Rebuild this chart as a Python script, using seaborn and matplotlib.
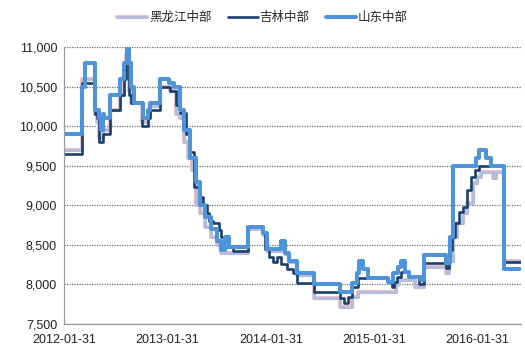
import pandas as pd
import matplotlib
matplotlib.use("Agg")
import matplotlib.pyplot as plt
import matplotlib.dates as mdates
import matplotlib.patheffects as pe
from matplotlib.ticker import FuncFormatter
import seaborn as sns

# 黑龙江中部
hlj_dates = ["2012-01-31", "2012-04-04", "2012-05-18", "2012-05-25", "2012-06-04", "2012-06-15",
             "2012-07-13", "2012-08-17", "2012-08-31", "2012-09-07", "2012-09-17", "2012-09-24",
             "2012-11-02", "2012-11-23", "2012-11-30", "2013-01-04", "2013-02-08", "2013-03-01",
             "2013-03-15", "2013-03-29", "2013-04-12", "2013-04-26", "2013-05-10", "2013-05-24",
             "2013-06-14", "2013-07-05", "2013-07-26", "2013-08-09", "2013-09-06", "2013-11-12",
             "2014-01-03", "2014-01-17", "2014-03-07", "2014-03-21", "2014-04-04", "2014-05-02",
             "2014-07-04", "2014-10-03", "2014-11-14", "2014-12-05", "2015-04-17", "2015-05-01",
             "2015-06-26", "2015-07-28", "2015-10-14", "2015-10-24", "2015-11-07", "2015-11-21",
             "2015-12-12", "2015-12-26", "2016-01-16", "2016-01-30", "2016-02-13", "2016-03-25",
             "2016-04-08", "2016-05-06", "2016-06-30"]
hlj_vals = [9700, 10600, 10150, 10050, 9850, 9950,
            10200, 10400, 10650, 10900, 10450, 10300,
            10050, 10150, 10250, 10500, 10450, 10150,
            10100, 9800, 9600, 9450, 9000, 8900,
            8730, 8600, 8500, 8400, 8400, 8700,
            8620, 8420, 8500, 8380, 8280, 8120,
            7830, 7720, 7840, 7900, 8000, 8060,
            7970, 8220, 8150, 8300, 8600, 8780,
            8900, 9030, 9280, 9360, 9420, 9350,
            9420, 8300, 8300]

# 吉林中部
jl_dates = ["2012-01-31", "2012-04-04", "2012-05-18", "2012-05-25", "2012-06-04", "2012-06-15",
            "2012-07-13", "2012-08-17", "2012-08-31", "2012-09-07", "2012-09-17", "2012-09-24",
            "2012-11-02", "2012-11-23", "2012-11-30", "2013-01-04", "2013-02-08", "2013-03-01",
            "2013-03-15", "2013-04-05", "2013-04-19", "2013-05-03", "2013-05-24", "2013-06-07",
            "2013-06-21", "2013-06-28", "2013-07-12", "2013-08-02", "2013-08-09", "2013-08-23",
            "2013-08-30", "2013-09-06", "2013-09-20", "2013-11-12", "2014-01-03", "2014-01-10",
            "2014-01-24", "2014-02-07", "2014-02-21", "2014-03-07", "2014-03-28", "2014-04-18",
            "2014-05-02", "2014-07-04", "2014-10-03", "2014-10-17", "2014-10-31", "2014-11-14",
            "2014-12-05", "2015-03-20", "2015-04-03", "2015-04-10", "2015-04-24", "2015-05-08",
            "2015-06-05", "2015-07-10", "2015-07-28", "2015-10-14", "2015-10-24", "2015-11-03",
            "2015-11-14", "2015-11-28", "2015-12-12", "2015-12-26", "2016-01-09", "2016-01-23",
            "2016-02-06", "2016-05-04", "2016-06-30"]
jl_vals = [9650, 10550, 10150, 10100, 9800, 9900,
           10200, 10400, 10600, 10800, 10400, 10300,
           10000, 10100, 10200, 10500, 10450, 10270,
           10170, 9900, 9670, 9230, 9100, 9000,
           8900, 8800, 8780, 8690, 8600, 8470,
           8590, 8470, 8420, 8730, 8650, 8450,
           8350, 8280, 8350, 8260, 8200, 8150,
           8020, 7900, 7830, 7760, 7840, 7970,
           8080, 8030, 7970, 8030, 8100, 8160,
           8100, 8000, 8270, 8210, 8440, 8600,
           8780, 8920, 8980, 9190, 9360, 9450,
           9500, 8280, 8280]

# 山东中部
sd_dates = ["2012-01-31", "2012-04-03", "2012-04-13", "2012-05-18", "2012-06-01", "2012-06-08",
            "2012-06-15", "2012-06-22", "2012-07-13", "2012-08-17", "2012-08-31", "2012-09-10",
            "2012-09-17", "2012-09-24", "2012-10-05", "2012-11-06", "2012-11-23", "2012-12-01",
            "2013-01-04", "2013-02-04", "2013-02-22", "2013-03-15", "2013-03-29", "2013-04-19",
            "2013-05-10", "2013-05-24", "2013-06-14", "2013-07-05", "2013-07-26", "2013-08-09",
            "2013-08-23", "2013-09-06", "2013-11-12", "2014-01-03", "2014-01-17", "2014-03-07",
            "2014-03-21", "2014-04-04", "2014-05-02", "2014-07-04", "2014-10-03", "2014-11-15",
            "2014-12-03", "2014-12-10", "2014-12-24", "2015-01-11", "2015-03-23", "2015-04-09",
            "2015-04-27", "2015-05-08", "2015-05-22", "2015-06-05", "2015-07-17", "2015-07-28",
            "2015-10-14", "2015-10-28", "2015-11-07", "2016-01-28", "2016-02-07", "2016-03-03",
            "2016-03-18", "2016-05-05", "2016-06-30"]
sd_vals = [9900, 10500, 10800, 10200, 10100, 9950,
           10150, 10100, 10400, 10600, 10800, 11000,
           10800, 10500, 10300, 10100, 10200, 10300,
           10600, 10550, 10500, 10200, 9950, 9600,
           9300, 9000, 8850, 8700, 8550, 8430,
           8600, 8470, 8730, 8650, 8450, 8550,
           8400, 8300, 8150, 8000, 7900, 8020,
           8150, 8300, 8200, 8080, 8030, 8150,
           8220, 8300, 8160, 8100, 8050, 8370,
           8270, 8600, 9500, 9600, 9700, 9600,
           9500, 8200, 8200]

names = ["黑龙江中部", "吉林中部", "山东中部"]
colors = ["#B7BCDB", "#1B3F6B", "#4F93DA"]
widths = [2.2, 1.9, 2.9]

frames = []
for name, d, v in zip(names, [hlj_dates, jl_dates, sd_dates], [hlj_vals, jl_vals, sd_vals]):
    frames.append(pd.DataFrame({"date": pd.to_datetime(d), "price": v, "region": name}))
df = pd.concat(frames, ignore_index=True)

sns.set_style("white")
plt.rcParams["font.family"] = ["Liberation Sans", "Noto Sans CJK SC", "DejaVu Sans"]

fig = plt.figure(figsize=(5.25, 3.6), dpi=100)
ax = fig.add_axes([0.122, 0.10, 0.870, 0.769])

for name, c, w in zip(names, colors, widths):
    sub = df[df["region"] == name]
    effects = None
    if name == "黑龙江中部":
        effects = [pe.Stroke(linewidth=w + 0.8, foreground="#EBC3CC"), pe.Normal()]
    sns.lineplot(data=sub, x="date", y="price", ax=ax, color=c, linewidth=w,
                 drawstyle="steps-post", label=name, path_effects=effects)

ax.set_ylim(7500, 11000)
ax.set_xlim(pd.Timestamp("2012-01-31"), pd.Timestamp("2016-07-03"))
ax.set_yticks(range(7500, 11001, 500))
ax.yaxis.set_major_formatter(FuncFormatter(lambda v, p: f"{int(v):,}"))
ax.set_xticks(pd.to_datetime(["2012-01-31", "2013-01-31", "2014-01-31", "2015-01-31", "2016-01-31"]))
ax.xaxis.set_major_formatter(mdates.DateFormatter("%Y-%m-%d"))
ax.set_xlabel("")
ax.set_ylabel("")

ax.grid(axis="y", linestyle=(0, (1, 1)), color="#6E6E6E", linewidth=0.9)
ax.set_axisbelow(True)
for s in ["top", "right"]:
    ax.spines[s].set_visible(False)
for s in ["left", "bottom"]:
    ax.spines[s].set_color("#9A9A9A")
    ax.spines[s].set_linewidth(0.9)
ax.tick_params(axis="both", labelsize=9, colors="#9A9A9A", labelcolor="#222222",
               direction="out", length=3, width=0.9, pad=2)
ax.tick_params(axis="x", pad=4)

ax.legend(loc="upper center", bbox_to_anchor=(0.50, 1.0), bbox_transform=fig.transFigure,
          ncol=3, frameon=False, fontsize=9, handlelength=2.4, handletextpad=0.15,
          columnspacing=1.3, prop={"family": ["Noto Sans CJK SC", "DejaVu Sans"], "size": 9})

fig.savefig("out.png", dpi=100)
